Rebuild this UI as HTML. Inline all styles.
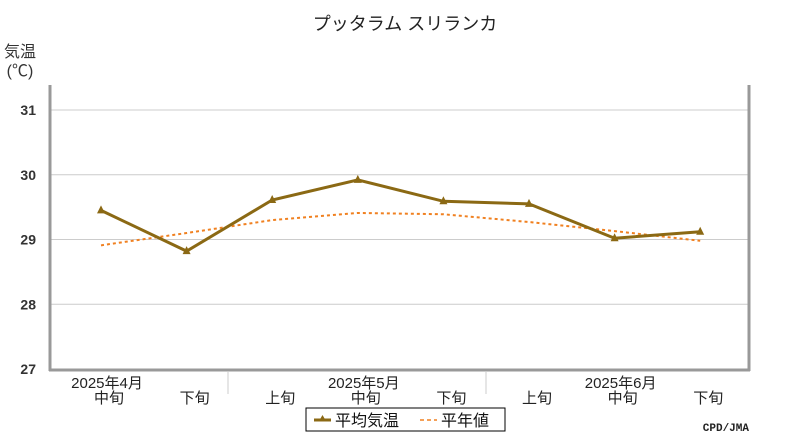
<!DOCTYPE html>
<html><head><meta charset="utf-8"><style>
body{margin:0;background:#fff;width:800px;height:440px;overflow:hidden;font-family:"Liberation Sans","Noto Sans CJK JP",sans-serif}
</style></head><body>
<svg width="800" height="440" font-family="Liberation Sans, Noto Sans CJK JP, sans-serif">
<text x="405" y="30" text-anchor="middle" font-size="18" fill="#222">プッタラム スリランカ</text>
<text x="20" y="57" text-anchor="middle" font-size="16" fill="#333">気温</text>
<text x="20" y="76" text-anchor="middle" font-size="16" fill="#333">(℃)</text>
<g id="grid"></g>
<line x1="50" y1="85" x2="50" y2="371" stroke="#999" stroke-width="3"/>
<line x1="749" y1="85" x2="749" y2="371" stroke="#999" stroke-width="3"/>
<line x1="49" y1="370" x2="750" y2="370" stroke="#999" stroke-width="3"/>
<g id="xlabels"></g>
<g id="series"></g>
<g>
<rect x="306" y="408" width="199" height="23" fill="#fff" stroke="#000" stroke-width="1"/>
<line x1="314" y1="420" x2="331" y2="420" stroke="#8B6914" stroke-width="3"/>
<polygon points="322.5,415 326,421 319,421" fill="#8B6914"/>
<text x="335" y="426" font-size="16" fill="#111">平均気温</text>
<line x1="420" y1="420" x2="437" y2="420" stroke="#f08020" stroke-width="1.5" stroke-dasharray="4,3"/>
<text x="441" y="426" font-size="16" fill="#111">平年値</text>
</g>
<text x="749" y="431" text-anchor="end" font-size="11" font-weight="bold" font-family="Liberation Mono, monospace" fill="#222">CPD/JMA</text>
</svg>
<script>
const categories=["中旬","下旬","上旬","中旬","下旬","上旬","中旬","下旬"];
const months=["2025年4月","","","2025年5月","","","2025年6月",""];
const meanTemp=[29.45,28.82,29.61,29.92,29.59,29.55,29.02,29.12];
const normalTemp=[28.91,29.1,29.3,29.41,29.39,29.27,29.13,28.98];
const yTicks=[27,28,29,30,31];
const ns="http://www.w3.org/2000/svg";
const yS=v=>369-(v-27)*64.75;
const xS=i=>101+i*85.6;
function mk(t,a,p){const e=document.createElementNS(ns,t);for(const k in a)e.setAttribute(k,a[k]);p.appendChild(e);return e;}
const grid=document.getElementById('grid');
yTicks.forEach(v=>{
 if(v>27){const l=mk('line',{x1:50,x2:748,y1:yS(v),y2:yS(v),stroke:'#ccc','stroke-width':1},grid);
 
 }
 const t=mk('text',{x:36,y:yS(v)+5,'text-anchor':'end','font-size':14,'font-weight':'bold',fill:'#333'},grid);
 t.textContent=v;
 
 
});
const xl=document.getElementById('xlabels');
[228,486].forEach((x,k)=>{const l=mk('line',{x1:x,x2:x,y1:371,y2:394,stroke:'#ccc'},xl);
 
 });
categories.forEach((c,i)=>{
 const t=mk('text',{x:xS(i)+8,y:403,'text-anchor':'middle','font-size':15,fill:'#222'},xl);
 t.textContent=c;
 
 
 if(months[i]){const m=mk('text',{x:xS(i)+6,y:388,'text-anchor':'middle','font-size':15,fill:'#222'},xl);
 m.textContent=months[i];
 
 }
});
const sg=document.getElementById('series');
const np=mk('polyline',{points:normalTemp.map((v,i)=>xS(i)+','+yS(v)).join(' '),fill:'none',stroke:'#f08020','stroke-width':2,'stroke-dasharray':'3,3'},sg);


const mp=mk('polyline',{points:meanTemp.map((v,i)=>xS(i)+','+yS(v)).join(' '),fill:'none',stroke:'#8B6914','stroke-width':3},sg);


meanTemp.forEach((v,i)=>{const x=xS(i),y=yS(v);
 const p=mk('polygon',{points:`${x},${y-5} ${x+4},${y+3} ${x-4},${y+3}`,fill:'#8B6914'},sg);
 
 });
</script>
</body></html>
